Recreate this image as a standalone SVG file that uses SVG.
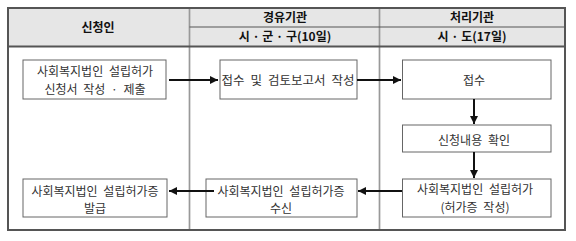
<svg xmlns="http://www.w3.org/2000/svg" width="576" height="241" viewBox="0 0 576 241">
<style>
.hdr{font-family:"Noto Sans CJK KR","Noto Sans",sans-serif;font-size:12px;font-weight:bold;fill:#111;text-anchor:middle}
.txt{font-family:"Noto Sans CJK KR","Noto Sans",sans-serif;font-size:12px;fill:#333;text-anchor:middle;word-spacing:3px}
.box{fill:#fff;stroke:#666;stroke-width:1}
.arr{stroke:#111;stroke-width:2;fill:none;marker-end:url(#ah)}
</style>
<defs>
<marker id="ah" markerUnits="userSpaceOnUse" markerWidth="9" markerHeight="9" refX="8" refY="4" orient="auto">
<path d="M0,0 L8,4 L0,8 z" fill="#111"/>
</marker>
</defs>
<rect width="576" height="241" fill="#fff"/>
<g id="frame">
<rect x="8" y="8" width="557" height="38" fill="#e6e6e6"/>
<line x1="189.5" y1="8" x2="189.5" y2="230" stroke="#999" stroke-width="1.7"/>
<line x1="379.5" y1="8" x2="379.5" y2="230" stroke="#999" stroke-width="1.7"/>
<line x1="189.5" y1="27" x2="565" y2="27" stroke="#555" stroke-width="1.2"/>
<line x1="8" y1="46.5" x2="565" y2="46.5" stroke="#555" stroke-width="2.2"/>
<rect x="8" y="8" width="557" height="222" fill="none" stroke="#555" stroke-width="2"/>
</g>
<g id="headers">
<text class="hdr" x="98" y="31.5">신청인</text>
<text class="hdr" x="285" y="22">경유기관</text>
<text class="hdr" x="285" y="41">시 · 군 · 구(10일)</text>
<text class="hdr" x="472" y="22">처리기관</text>
<text class="hdr" x="472" y="41">시 · 도(17일)</text>
</g>
<g id="n1">
<rect class="box" x="23" y="60" width="143" height="39"/>
<text class="txt" x="95" y="75.5">사회복지법인 설립허가</text>
<text class="txt" x="95" y="94">신청서 작성 · 제출</text>
</g>
<g id="n2">
<rect class="box" x="220" y="60" width="137" height="39"/>
<text class="txt" x="288" y="84.5" textLength="133" lengthAdjust="spacingAndGlyphs">접수 및 검토보고서 작성</text>
</g>
<g id="n3">
<rect class="box" x="402.5" y="60" width="148.5" height="39"/>
<text class="txt" x="474" y="84.5">접수</text>
</g>
<g id="n4">
<rect class="box" x="402.5" y="125" width="148.5" height="27"/>
<text class="txt" x="474" y="144.5">신청내용 확인</text>
</g>
<g id="n5">
<rect class="box" x="402.5" y="179" width="148.5" height="38"/>
<text class="txt" x="475" y="193.5">사회복지법인 설립허가</text>
<text class="txt" x="475" y="212">(허가증 작성)</text>
</g>
<g id="n6">
<rect class="box" x="206" y="179" width="151" height="38"/>
<text class="txt" x="281" y="195.5">사회복지법인 설립허가증</text>
<text class="txt" x="281" y="212.5">수신</text>
</g>
<g id="n7">
<rect class="box" x="23" y="179" width="144" height="38"/>
<text class="txt" x="95" y="195.5">사회복지법인 설립허가증</text>
<text class="txt" x="95" y="213">발급</text>
</g>
<g id="connectors">
<path class="arr" d="M169,80 H218"/>
<path class="arr" d="M357,80 H401"/>
<path class="arr" d="M474,99 V124"/>
<path class="arr" d="M474,152 V178"/>
<path class="arr" d="M402,191 H358"/>
<path class="arr" d="M214,191 H169"/>
</g>
</svg>
